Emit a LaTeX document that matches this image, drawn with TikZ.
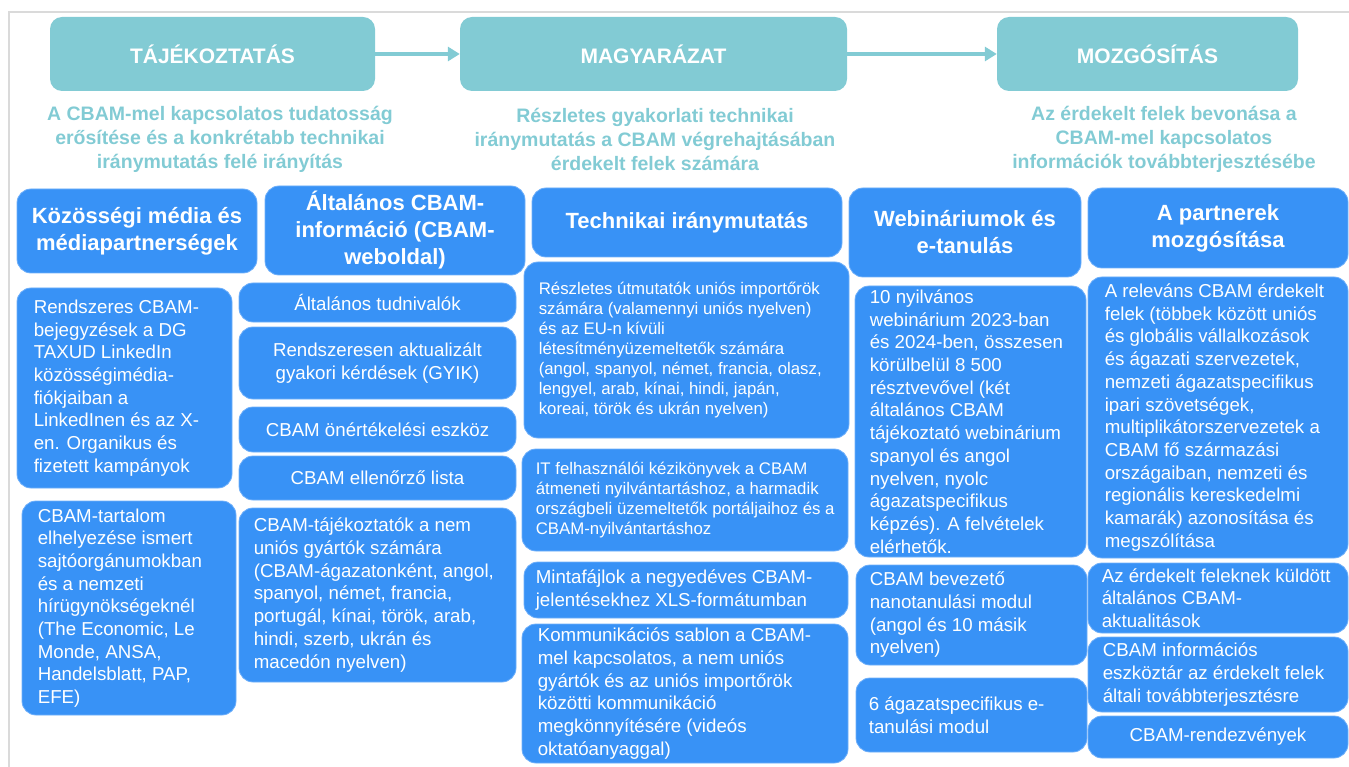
\documentclass[tikz,border=0pt]{standalone}
\usepackage{fontspec}
\setmainfont{Liberation Sans}
\usetikzlibrary{arrows.meta}
\definecolor{tealc}{RGB}{130,203,212}
\definecolor{bluec}{RGB}{56,146,246}
\definecolor{blueline}{RGB}{110,175,250}
\definecolor{framec}{RGB}{218,218,218}
\newcommand\bx[6]{%
  \pgfmathsetmacro\bw{#4-#2}\pgfmathsetmacro\bh{#5-#3}%
  \pgfmathsetmacro\bcx{(#2+#4)/2}\pgfmathsetmacro\bcy{(#3+#5)/2}%
  \node[#6, minimum width=\bw pt, minimum height=\bh pt] (#1) at (\bcx,\bcy) {};}
\newcommand\lbox[8]{%
  \bx{#1}{#2}{#3}{#4}{#5}{itembox}%
  \node[#6, anchor=west] (#1t) at ([xshift=#7pt]#1.west) {#8};}
\newcommand\cbox[7]{%
  \pgfmathsetmacro\bw{#4-#2}\pgfmathsetmacro\bh{#5-#3}%
  \pgfmathsetmacro\bcx{(#2+#4)/2}\pgfmathsetmacro\bcy{(#3+#5)/2}%
  \node[#6, minimum width=\bw pt, minimum height=\bh pt] (#1) at (\bcx,\bcy) {#7};}
\tikzset{
  tealbox/.style={fill=tealc, rounded corners=12pt, text=white, inner sep=0pt,
    font=\bfseries\fontsize{21}{25}\selectfont},
  subtxt/.style={text=tealc, align=center, inner sep=0pt,
    font=\bfseries\fontsize{19.5}{24}\selectfont},
  catbox/.style={fill=bluec, draw=blueline, line width=0.8pt, rounded corners=14pt,
    text=white, align=center, inner sep=0pt, font=\bfseries\fontsize{22}{27}\selectfont},
  itembox/.style={fill=bluec, draw=blueline, line width=0.8pt, rounded corners=14pt, inner sep=0pt},
  itemtxt/.style={text=white, align=left, inner sep=0pt, font=\fontsize{18.7}{22.7}\selectfont},
  smalltxt/.style={text=white, align=left, inner sep=0pt, font=\fontsize{16.8}{20}\selectfont},
  ctrbox/.style={itembox, text=white, align=center, font=\fontsize{18.7}{22.7}\selectfont},
  arr/.style={draw=tealc, line width=4pt, -{Triangle[length=12pt,width=14pt]}},
}
\begin{document}
\begin{tikzpicture}[x=1pt,y=-1pt]
\useasboundingbox (0,0) rectangle (1349,767);
\draw[framec, line width=2pt] (9,767) -- (9,12) -- (1349,12);

% top stage boxes
\cbox{t1}{50}{17}{375}{91}{tealbox}{TÁJÉKOZTATÁS}
\cbox{t2}{460}{17}{847}{91}{tealbox}{MAGYARÁZAT}
\cbox{t3}{997}{17}{1298}{91}{tealbox}{MOZGÓSÍTÁS}
\draw[arr] (t1) -- (t2);
\draw[arr] (t2) -- (t3);

% subtitles
\node[subtxt] (s1) at (220,139) {A CBAM-mel kapcsolatos tudatosság\\erősítése és a konkrétabb technikai\\iránymutatás felé irányítás};
\node[subtxt] (s2) at (655,139) {Részletes gyakorlati technikai\\iránymutatás a CBAM végrehajtásában\\érdekelt felek számára};
\node[subtxt] (s3) at (1164,139) {Az érdekelt felek bevonása a\\CBAM-mel kapcsolatos\\információk továbbterjesztésébe};

% category headers
\cbox{c1}{17}{189}{257}{273}{catbox}{Közösségi média és\\médiapartnerségek}
\cbox{c2}{265}{186}{525}{275}{catbox}{Általános CBAM-\\információ (CBAM-\\weboldal)}
\cbox{c3}{532}{188}{842}{257}{catbox}{Technikai iránymutatás}
\cbox{c4}{849}{188}{1081}{277}{catbox}{Webináriumok és\\e-tanulás}
\cbox{c5}{1088}{188}{1348}{268}{catbox}{A partnerek\\mozgósítása}

% column 1
\lbox{a1}{17}{288}{232}{488}{itemtxt}{17}{Rendszeres CBAM-\\bejegyzések a DG\\TAXUD LinkedIn\\közösségimédia-\\fiókjaiban a\\LinkedInen és az X-\\en. Organikus és\\fizetett kampányok}
\lbox{a2}{22}{501}{236}{715}{itemtxt}{16}{CBAM-tartalom\\elhelyezése ismert\\sajtóorgánumokban\\és a nemzeti\\hírügynökségeknél\\(The Economic, Le\\Monde, ANSA,\\Handelsblatt, PAP,\\EFE)}

% column 2
\cbox{b1}{239}{283}{516}{322}{ctrbox}{Általános tudnivalók}
\cbox{b2}{239}{327}{516}{399}{ctrbox}{Rendszeresen aktualizált\\gyakori kérdések (GYIK)}
\cbox{b3}{239}{407}{516}{452}{ctrbox}{CBAM önértékelési eszköz}
\cbox{b4}{239}{456}{516}{500}{ctrbox}{CBAM ellenőrző lista}
\lbox{b5}{239}{508}{516}{682}{itemtxt}{15}{CBAM-tájékoztatók a nem\\uniós gyártók számára\\(CBAM-ágazatonként, angol,\\spanyol, német, francia,\\portugál, kínai, török, arab,\\hindi, szerb, ukrán és\\macedón nyelven)}

% column 3
\lbox{d1}{524}{262}{849}{438}{smalltxt}{15}{Részletes útmutatók uniós importőrök\\számára (valamennyi uniós nyelven)\\és az EU-n kívüli\\létesítményüzemeltetők számára\\(angol, spanyol, német, francia, olasz,\\lengyel, arab, kínai, hindi, japán,\\koreai, török és ukrán nyelven)}
\lbox{d2}{522}{449}{848}{551}{smalltxt}{14}{IT felhasználói kézikönyvek a CBAM\\átmeneti nyilvántartáshoz, a harmadik\\országbeli üzemeltetők portáljaihoz és a\\CBAM-nyilvántartáshoz}
\lbox{d3}{524}{562}{848}{618}{itemtxt}{12}{Mintafájlok a negyedéves CBAM-\\jelentésekhez XLS-formátumban}
\lbox{d4}{522}{624}{848}{763}{itemtxt}{16}{Kommunikációs sablon a CBAM-\\mel kapcsolatos, a nem uniós\\gyártók és az uniós importőrök\\közötti kommunikáció\\megkönnyítésére (videós\\oktatóanyaggal)}

% column 4
\lbox{e1}{855}{286}{1086}{557}{itemtxt}{15}{10 nyilvános\\webinárium 2023-ban\\és 2024-ben, összesen\\körülbelül 8 500\\résztvevővel (két\\általános CBAM\\tájékoztató webinárium\\spanyol és angol\\nyelven, nyolc\\ágazatspecifikus\\képzés). A felvételek\\elérhetők.}
\lbox{e2}{856}{565}{1087}{665}{itemtxt}{14}{CBAM bevezető\\nanotanulási modul\\(angol és 10 másik\\nyelven)}
\lbox{e3}{856}{678}{1087}{752}{itemtxt}{13}{6 ágazatspecifikus e-\\tanulási modul}

% column 5
\lbox{f1}{1088}{277}{1348}{558}{itemtxt}{17}{A releváns CBAM érdekelt\\felek (többek között uniós\\és globális vállalkozások\\és ágazati szervezetek,\\nemzeti ágazatspecifikus\\ipari szövetségek,\\multiplikátorszervezetek a\\CBAM fő származási\\országaiban, nemzeti és\\regionális kereskedelmi\\kamarák) azonosítása és\\megszólítása}
\lbox{f2}{1088}{563}{1348}{633}{itemtxt}{14}{Az érdekelt feleknek küldött\\általános CBAM-\\aktualitások}
\lbox{f3}{1088}{637}{1348}{712}{itemtxt}{15}{CBAM információs\\eszköztár az érdekelt felek\\általi továbbterjesztésre}
\cbox{f4}{1088}{716}{1348}{758}{ctrbox}{CBAM-rendezvények}
\end{tikzpicture}
\end{document}
